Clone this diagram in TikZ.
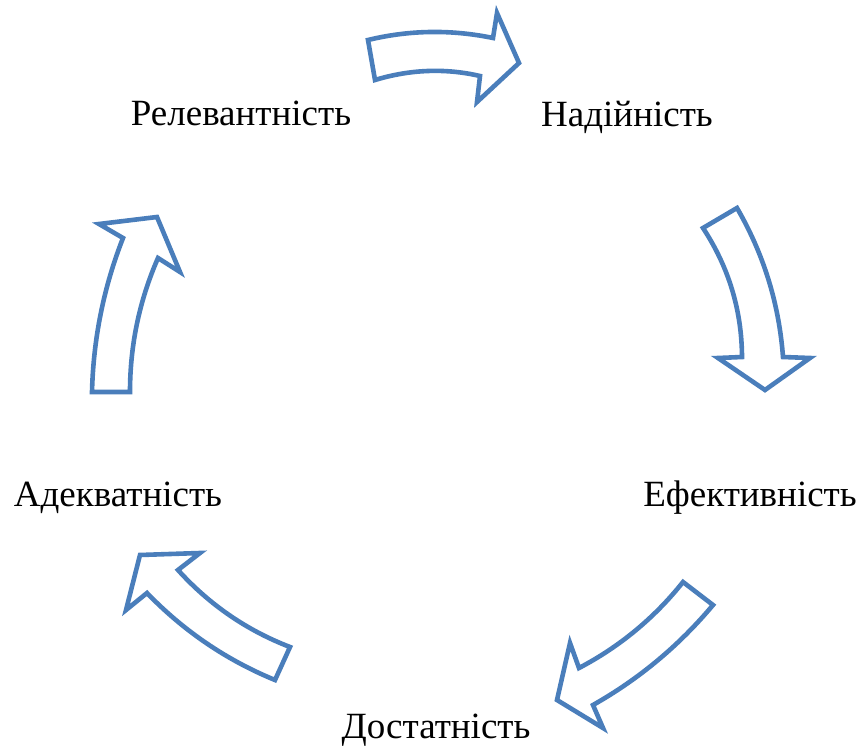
\documentclass[tikz,border=0pt]{standalone}
\usepackage{fontspec}
\setmainfont{Liberation Serif}
\usetikzlibrary{calc}
\definecolor{arrowblue}{RGB}{74,126,187}
\newcommand{\qcurve}[3]{.. controls ($#1!2/3!#2$) and ($#3!2/3!#2$) .. #3}
\begin{document}
\begin{tikzpicture}[x=1pt,y=-1pt,
  lbl/.style={anchor=base,inner sep=0pt,font=\fontsize{37}{41}\selectfont},
  cyc/.style={draw=arrowblue,line width=4.6pt,line join=miter,fill=white}]
\useasboundingbox (0,0) rectangle (862,749);
% labels
\node[lbl] (rel) at (241,126) {Релевантність};
\node[lbl] (nad) at (627,127) {Надійність};
\node[lbl] (efe) at (750,506) {Ефективність};
\node[lbl] (ade) at (118,506) {Адекватність};
\node[lbl] (dos) at (436,738) {Достатність};
% arrow 1 (top)
\draw[cyc] (368,40) -- (375,80)
  .. controls ($(375,80)!2/3!(428,64)$) and ($(480,76)!2/3!(428,64)$) .. (480,76)
  -- (477,102) -- (519,63) -- (497,13) -- (493,38)
  .. controls ($(493,38)!2/3!(430,25)$) and ($(368,40)!2/3!(430,25)$) .. (368,40) -- cycle;
% arrow 2 (right)
\draw[cyc] (737,208) -- (703,228)
  .. controls ($(703,228)!2/3!(741.6,286.7)$) and ($(742,357)!2/3!(741.6,286.7)$) .. (742,357)
  -- (718,358) -- (765,390) -- (810,358) -- (783,357)
  .. controls ($(783,357)!2/3!(777,277)$) and ($(737,208)!2/3!(777,277)$) .. (737,208) -- cycle;
% arrow 3 (bottom right)
\draw[cyc] (683,582) -- (713,605)
  .. controls ($(713,605)!2/3!(662,666)$) and ($(593,705)!2/3!(662,666)$) .. (593,705)
  -- (603,728) -- (557,700) -- (570,643) -- (579,668)
  .. controls ($(579,668)!2/3!(640,636)$) and ($(683,582)!2/3!(640,636)$) .. (683,582) -- cycle;
% arrow 4 (bottom left)
\draw[cyc] (275,680) -- (290,647)
  .. controls ($(290,647)!2/3!(225,622)$) and ($(178,570)!2/3!(225,622)$) .. (178,570)
  -- (200,553) -- (140,555) -- (126,610) -- (147,593)
  .. controls ($(147,593)!2/3!(202,650)$) and ($(275,680)!2/3!(202,650)$) .. (275,680) -- cycle;
% arrow 5 (left)
\draw[cyc] (92,392) -- (130,392)
  .. controls ($(130,392)!2/3!(130,322)$) and ($(158,258)!2/3!(130,322)$) .. (158,258)
  -- (180,272) -- (157,217) -- (99,224) -- (123,238)
  .. controls ($(123,238)!2/3!(94,312)$) and ($(92,392)!2/3!(94,312)$) .. (92,392) -- cycle;
\end{tikzpicture}
\end{document}
